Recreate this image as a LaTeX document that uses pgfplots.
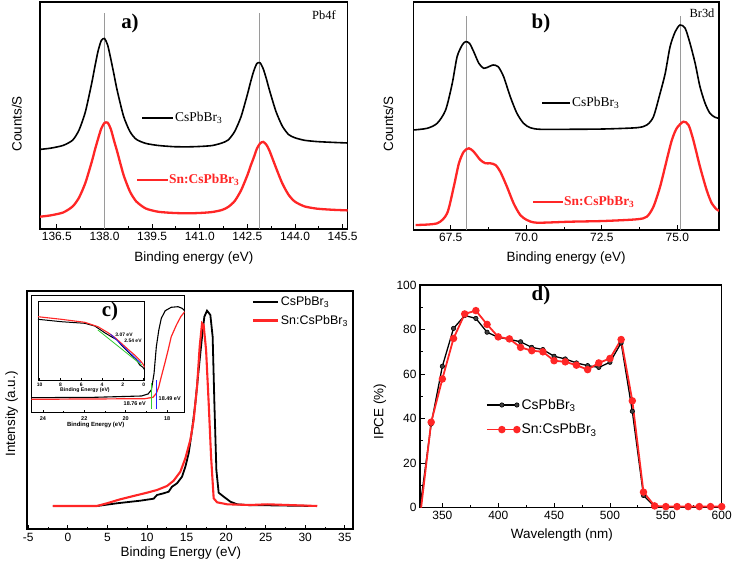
\documentclass[border=0pt]{standalone}
\usepackage{fontspec}
\setmainfont{Liberation Sans}
\newfontfamily\tnr{Liberation Serif}
\usepackage{pgfplots}
\pgfplotsset{compat=1.18}
\definecolor{myred}{HTML}{FF2626}
\definecolor{vgrey}{HTML}{9A9A9A}
\definecolor{ingreen}{HTML}{33CC33}
\definecolor{inblue}{HTML}{2222FF}

\pgfplotsset{
  panel/.style={
    scale only axis, anchor=south west,
    axis line style={line width=1.1bp},
    tick align=inside,
    major tick length=4.5bp, minor tick length=2.5bp,
    every tick/.style={black, line width=0.9bp},
    tick label style={font=\fontsize{12}{12}\selectfont},
    label style={font=\fontsize{13.5}{14}\selectfont},
    /pgf/number format/assume math mode=true,
  },
  tinyax/.style={
    scale only axis, anchor=south west,
    axis line style={line width=0.8bp},
    axis background/.style={fill=white},
    tick align=inside,
    major tick length=2.2bp, minor tick length=1.3bp,
    every tick/.style={black, line width=0.5bp},
    tick label style={font=\bfseries\fontsize{5.5}{5.5}\selectfont},
    label style={font=\bfseries\fontsize{6}{6}\selectfont},
    /pgf/number format/assume math mode=true,
    ytick=\empty, xtick pos=bottom, x dir=reverse,
  },
}

\begin{document}
\begin{tikzpicture}
\useasboundingbox (0,0) rectangle (735bp,562bp);

% ---------- a) Pb4f
\begin{axis}[panel, at={(40bp,333bp)}, width=307.7bp, height=227bp,
  xmin=135.97, xmax=145.66, ymin=0, ymax=227,
  xtick={136.5,138.0,139.5,141.0,142.5,144.0,145.5}, minor x tick num=1,
  ytick=\empty, xtick pos=bottom,
  xticklabel style={/pgf/number format/.cd, fixed, fixed zerofill, precision=1},
  xlabel={Binding energy (eV)}, ylabel={Counts/S},
  x label style={at={(axis description cs:0.5,-0.128)}, anchor=center},
  y label style={at={(axis description cs:-0.075,0.463)}, anchor=center},
]
\addplot[vgrey, line width=0.8bp] coordinates {(138.0,0) (138.0,216)};
\addplot[vgrey, line width=0.8bp] coordinates {(142.88,0) (142.88,216)};
\addplot[black, line width=1.6bp, smooth, tension=0.4] coordinates {
 (135.97,79.6) (136.3,80.8) (136.7,83.6) (137.0,88.9) (137.2,99) (137.4,117.3)
 (137.6,146) (137.7,162.7) (137.8,178.1) (137.9,188.5) (138.0,190.5) (138.1,184)
 (138.2,170) (138.3,154.5) (138.4,138.7) (138.6,112.9) (138.8,97.6) (139.0,89.7)
 (139.3,85.6) (139.7,83.5) (140.2,82.3) (140.7,82.2) (141.1,82.7) (141.4,83.5)
 (141.7,86) (141.9,89.1) (142.1,97.5) (142.3,112.2) (142.5,134.4) (142.6,146.8)
 (142.7,157.9) (142.8,165.5) (142.9,166.2) (143.0,160.2) (143.1,150) (143.2,138.4)
 (143.4,117.6) (143.6,102.9) (143.8,94.4) (144.0,91.2) (144.3,88.7) (144.7,87.4)
 (145.2,86.6) (145.66,86)};
\addplot[myred, line width=2.3bp, smooth, tension=0.4] coordinates {
 (135.97,12.3) (136.3,13.6) (136.7,16.5) (137.0,22.6) (137.2,31.4) (137.4,46.2)
 (137.6,67.2) (137.7,79.2) (137.8,90.3) (137.9,100.5) (138.0,106) (138.1,106.3)
 (138.2,100) (138.3,88.5) (138.4,77.5) (138.6,54.2) (138.8,37.6) (139.0,27.6)
 (139.3,20.5) (139.7,17.2) (140.2,16) (140.7,15.7) (141.1,16.2) (141.4,17)
 (141.7,19) (141.9,22.1) (142.1,27.9) (142.3,38.5) (142.5,53.7) (142.6,62.9)
 (142.7,71.3) (142.8,80.3) (142.9,85.6) (143.0,87.1) (143.1,84.2) (143.2,78)
 (143.4,61.4) (143.6,45.6) (143.8,34.1) (144.0,27.3) (144.3,22.6) (144.7,20.3)
 (145.2,19.2) (145.66,18.6)};
\end{axis}

% ---------- b) Br3d
\begin{axis}[panel, at={(413.3bp,332bp)}, width=305.7bp, height=228bp,
  xmin=66.26, xmax=76.38, ymin=0, ymax=228,
  xtick={67.5,70.0,72.5,75.0}, minor x tick num=1,
  ytick=\empty, xtick pos=bottom,
  xticklabel style={/pgf/number format/.cd, fixed, fixed zerofill, precision=1},
  xlabel={Binding energy (eV)}, ylabel={Counts/S},
  x label style={at={(axis description cs:0.5,-0.124)}, anchor=center},
  y label style={at={(axis description cs:-0.082,0.465)}, anchor=center},
]
\addplot[vgrey, line width=0.8bp] coordinates {(68.02,0) (68.02,214)};
\addplot[vgrey, line width=0.8bp] coordinates {(75.11,0) (75.11,214)};
\addplot[black, line width=1.6bp, smooth, tension=0.45] coordinates {
 (66.26,100) (66.72,101.7) (67.05,106.7) (67.33,120) (67.55,146.7) (67.71,173.3)
 (67.88,185) (67.99,188.3) (68.12,186.7) (68.26,178.3) (68.43,166.7) (68.59,161.7)
 (68.76,163.3) (68.9,165) (69.07,163.3) (69.25,153.3) (69.47,133.3) (69.69,116.7)
 (69.91,106.7) (70.13,102.3) (70.46,100.7) (71.46,100.7) (72.56,101) (73.66,102.3)
 (73.99,105) (74.21,113.3) (74.43,136.7) (74.6,156.7) (74.76,183.3) (74.93,198.3)
 (75.09,205) (75.26,201.7) (75.42,186.7) (75.59,166.7) (75.75,143.3) (75.92,126.7)
 (76.08,116.7) (76.25,112.7) (76.38,111.7)};
\addplot[myred, line width=2.3bp, smooth, tension=0.45] coordinates {
 (66.34,5) (67.05,6.7) (67.38,16.7) (67.6,43.3) (67.77,66.7) (67.93,78.3)
 (68.1,81.7) (68.26,78.3) (68.48,70) (68.65,66.7) (68.81,66.7) (68.98,65)
 (69.14,58.3) (69.36,43.3) (69.58,26.7) (69.8,15) (70.02,10) (70.35,7.3)
 (71.46,8.3) (72.56,9) (73.66,10.7) (73.99,13.3) (74.21,23.3) (74.43,43.3)
 (74.65,70) (74.82,90) (74.98,101.7) (75.2,108.3) (75.37,105) (75.53,90)
 (75.75,63.3) (75.97,40) (76.14,26.7) (76.3,20.7) (76.38,19.3)};
\end{axis}

% ---------- c) UPS
\begin{axis}[panel, at={(26.7bp,32.7bp)}, width=326bp, height=238.3bp,
  axis line style={line width=1.6bp},
  xmin=-5.2, xmax=36, ymin=0, ymax=238.3,
  xtick={-5,0,5,10,15,20,25,30,35}, minor x tick num=1,
  ytick=\empty, xtick pos=bottom,
  xlabel={Binding Energy (eV)}, ylabel={Intensity (a.u.)},
  x label style={at={(axis description cs:0.473,-0.098)}, anchor=center},
  y label style={at={(axis description cs:-0.046,0.484)}, anchor=center},
  legend style={at={(0.69,0.985)}, anchor=north west, draw=none, fill=none,
    font=\fontsize{12.5}{13}\selectfont, row sep=4bp, inner sep=0pt},
  legend cell align=left,
  legend image code/.code={\draw[#1] (0bp,0bp) -- (25bp,0bp);},
]
\addplot[black, line width=1.8bp] coordinates {
 (-1.9,23.3) (3.67,23.3) (6.2,26) (9.15,28.6) (10.84,30.6) (11.27,34.3) (12.1,36)
 (12.74,37.6) (13.16,42.6) (13.8,46) (14.43,52.6) (14.85,62.6) (15.27,76)
 (15.7,99.3) (16.11,126) (16.53,159.3) (16.96,192.6) (17.25,212.6) (17.59,218.6)
 (18.01,214.3) (18.3,192.6) (18.52,126) (18.77,59.3) (19.06,36.6) (19.7,32.6)
 (20.54,27.6) (21.39,25) (23.08,24) (25.19,24) (31.09,23.3)};
\addlegendentry{CsPbBr\textsubscript{3}}
\addplot[myred, line width=2.1bp] coordinates {
 (-1.9,23.3) (3.67,23.3) (4.94,26) (6.62,30) (8.3,33.3) (10,36.6) (11.27,39.3)
 (12.53,43.3) (13.37,48.6) (14.22,57.6) (14.85,71) (15.48,89.3) (15.9,109.3)
 (16.33,142.6) (16.66,182.6) (16.96,206) (17.16,204.3) (17.47,179.3) (17.8,126)
 (18.1,72.6) (18.43,31) (18.86,27) (20.13,25) (23.08,24.3) (25.19,25) (31.52,23.3)};
\addlegendentry{Sn:CsPbBr\textsubscript{3}}
\end{axis}

% inset: secondary electron cut-off
\begin{axis}[tinyax, at={(31.3bp,149.3bp)}, width=153.4bp, height=117.7bp,
  xmin=17.15, xmax=24.56, ymin=0, ymax=117.7,
  xtick={18,20,22,24}, minor x tick num=1,
  xlabel={Binding Energy (eV)},
  x label style={at={(axis description cs:0.42,-0.1)}, anchor=center},
]
\addplot[black, line width=1.1bp] coordinates {
 (24.56,15) (21.49,15.4) (19.24,16.7) (18.92,18.7) (18.76,22.7) (18.63,39.4)
 (18.52,66) (18.4,82.7) (18.28,94.4) (18.09,102) (17.8,105.4) (17.47,106)
 (17.28,104.4) (17.15,102)};
\addplot[myred, line width=1.2bp] coordinates {
 (24.56,13.4) (19.08,14) (18.68,15.4) (18.52,19.4) (18.4,26) (18.28,36)
 (18.11,49.4) (17.95,62.7) (17.8,76) (17.55,87.7) (17.34,96) (17.15,101)};
\addplot[ingreen, line width=1bp] coordinates {(18.76,4) (18.76,30)};
\addplot[inblue, line width=1bp] coordinates {(18.49,4) (18.49,33)};
\end{axis}

% inset of inset: valence band edge
\begin{axis}[tinyax, at={(38bp,182bp)}, width=106.7bp, height=78.3bp,
  xmin=-0.1, xmax=10.16, ymin=0, ymax=78.3,
  xtick={0,2,4,6,8,10},
  tick label style={font=\bfseries\fontsize{5}{5}\selectfont},
  xlabel={Binding Energy (eV)},
  x label style={at={(axis description cs:0.44,-0.13)}, anchor=center,
    font=\bfseries\fontsize{5.2}{5.2}\selectfont},
]
\addplot[black, line width=1bp] coordinates {
 (10.16,60.7) (7.92,58.3) (5.67,56.7) (4.71,54) (4.23,50.7) (3.75,47.3)
 (3.11,43.3) (2.54,40) (2.15,35) (1.67,30) (1.19,25) (0.71,20.7) (0.38,15)
 (0.07,12.7) (-0.1,10)};
\addplot[myred, line width=1.1bp] coordinates {
 (10.16,63.3) (7.92,60.7) (5.67,57.7) (4.39,53.3) (3.43,47.3) (2.79,42.7)
 (2.15,36.7) (1.51,30.7) (0.87,25) (0.38,20) (0.07,16) (-0.1,12.7)};
\addplot[ingreen, line width=0.8bp] coordinates {(4.4,50) (0.2,15)};
\addplot[inblue, line width=0.8bp] coordinates {(3.2,46) (0.3,17)};
\end{axis}

% ---------- d) IPCE
\begin{axis}[panel, at={(420bp,54.3bp)}, width=301.7bp, height=222.7bp,
  axis line style={line width=1.3bp},
  xmin=330, xmax=600, ymin=0, ymax=100,
  xtick={350,400,450,500,550,600}, minor x tick num=1,
  ytick={0,20,40,60,80,100}, minor y tick num=1,
  xtick pos=bottom, ytick pos=left,
  xlabel={Wavelength (nm)}, ylabel={IPCE (\%)},
  x label style={at={(axis description cs:0.47,-0.1226)}, anchor=center},
  y label style={at={(axis description cs:-0.1326,0.431)}, anchor=center},
  legend style={at={(0.218,0.497)}, anchor=north west, draw=none, fill=none,
    font=\fontsize{14}{14}\selectfont, row sep=9bp, inner sep=0pt},
  legend cell align=left,
  legend image code/.code={\draw[mark repeat=2,mark phase=2,#1] plot coordinates {(0bp,0bp) (15bp,0bp) (30bp,0bp)};},
]
\addplot[black, line width=1.3bp, mark=*, mark size=2.2bp,
  mark options={fill=black!75, draw=black, line width=0.6bp}, mark indices={2,...,28}] coordinates {
 (330,0) (340,37.6) (350,63.5) (360,80.5) (370,86.3) (380,85) (390,78.8) (400,76.5)
 (410,75.6) (420,74.5) (430,72) (440,71) (450,68) (460,66.8) (470,65) (480,63.8)
 (490,63) (500,65.3) (510,74) (520,43.3) (530,5.5) (540,0.5) (550,0.3) (560,0.3)
 (570,0.3) (580,0.3) (590,0.3) (600,0.3)};
\addlegendentry{CsPbBr\textsubscript{3}}
\addplot[myred, line width=1.8bp, mark=*, mark size=2.8bp,
  mark options={fill=myred, draw=myred}, mark indices={2,...,28}] coordinates {
 (331,0) (340,38.4) (350,57.8) (360,76) (370,87) (380,88.5) (390,82.3) (400,76.7)
 (410,75.8) (420,72) (430,70.5) (440,70) (450,66) (460,65.5) (470,64) (480,62)
 (490,65) (500,67) (510,75.5) (520,48) (530,7) (540,0.8) (550,0.5) (560,0.5)
 (570,0.5) (580,0.5) (590,0.5) (600,0.5)};
\addlegendentry{Sn:CsPbBr\textsubscript{3}}
\end{axis}

% ---------- panel marks and in-plot labels
\node[font=\tnr\bfseries\fontsize{21}{21}\selectfont] at (130bp,539bp) {a)};
\node[font=\tnr\fontsize{12.5}{13}\selectfont] at (324bp,547bp) {Pb4f};
\draw[black, line width=1.6bp] (142bp,444bp) -- (173bp,444bp);
\node[anchor=west, inner sep=0pt, font=\tnr\fontsize{13.5}{14}\selectfont] at (175bp,444bp) {CsPbBr\textsubscript{3}};
\draw[myred, line width=2.3bp] (137bp,382bp) -- (168bp,382bp);
\node[anchor=west, inner sep=0pt, text=myred, font=\tnr\bfseries\fontsize{13.5}{14}\selectfont] at (169bp,382bp) {Sn:CsPbBr\textsubscript{3}};

\node[font=\tnr\bfseries\fontsize{21}{21}\selectfont] at (541bp,539bp) {b)};
\node[font=\tnr\fontsize{12.5}{13}\selectfont] at (702bp,549bp) {Br3d};
\draw[black, line width=1.6bp] (542bp,459bp) -- (570bp,459bp);
\node[anchor=west, inner sep=0pt, font=\tnr\fontsize{13.5}{14}\selectfont] at (572bp,459bp) {CsPbBr\textsubscript{3}};
\draw[myred, line width=2.3bp] (533bp,360bp) -- (563bp,360bp);
\node[anchor=west, inner sep=0pt, text=myred, font=\tnr\bfseries\fontsize{13.5}{14}\selectfont] at (564bp,360bp) {Sn:CsPbBr\textsubscript{3}};

\node[font=\tnr\bfseries\fontsize{21}{21}\selectfont] at (110bp,251bp) {c)};
\node[font=\bfseries\fontsize{5}{5}\selectfont] at (124bp,227bp) {3.07 eV};
\node[font=\bfseries\fontsize{5}{5}\selectfont] at (133bp,221bp) {2.54 eV};
\node[font=\bfseries\fontsize{5.5}{5.5}\selectfont] at (134.7bp,158.7bp) {18.76 eV};
\node[font=\bfseries\fontsize{5.5}{5.5}\selectfont] at (169.7bp,163bp) {18.49 eV};

\node[font=\tnr\bfseries\fontsize{21}{21}\selectfont] at (541bp,267bp) {d)};
\end{tikzpicture}
\end{document}
